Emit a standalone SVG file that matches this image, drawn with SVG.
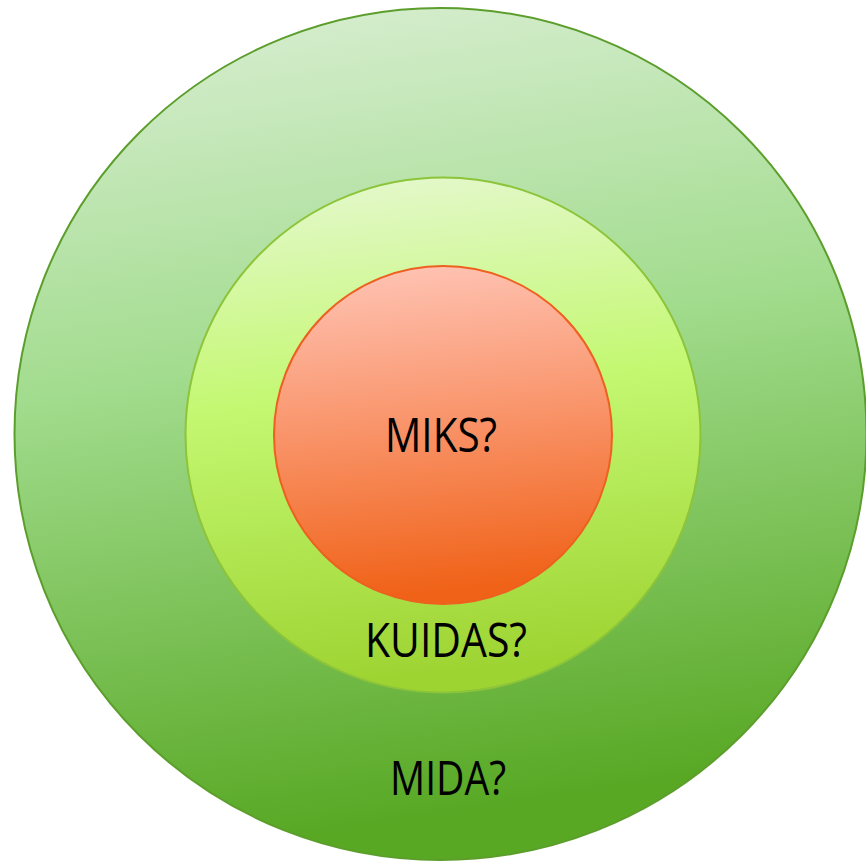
<svg xmlns="http://www.w3.org/2000/svg" width="866" height="863" viewBox="0 0 866 863">
<defs>
<linearGradient id="gOuter" x1="0" y1="0" x2="0.15" y2="1">
<stop offset="0" stop-color="#dcefd6"/>
<stop offset="0.45" stop-color="#a2dc8e"/>
<stop offset="1" stop-color="#58a824"/>
</linearGradient>
<linearGradient id="gMid" x1="0" y1="0" x2="0.1" y2="1">
<stop offset="0" stop-color="#e6f8d2"/>
<stop offset="0.45" stop-color="#c4f872"/>
<stop offset="1" stop-color="#9ed432"/>
</linearGradient>
<linearGradient id="gInner" x1="0" y1="0" x2="0.1" y2="1">
<stop offset="0" stop-color="#ffc6b8"/>
<stop offset="0.5" stop-color="#f9946a"/>
<stop offset="1" stop-color="#f06218"/>
</linearGradient>
<style>
.lbl{font-family:"Open Sans","DejaVu Sans",sans-serif;font-size:48px;fill:#000;text-anchor:middle}
</style>
</defs>
<g id="outer">
<circle cx="440.5" cy="434" r="426" fill="url(#gOuter)" stroke="#5c9e2c" stroke-width="2"/>
<text class="lbl" x="448" y="795" textLength="116" lengthAdjust="spacingAndGlyphs">MIDA?</text>
</g>
<g id="middle">
<circle cx="443" cy="435" r="257.5" fill="url(#gMid)" stroke="#8cc43a" stroke-width="2"/>
<text class="lbl" x="446" y="657" textLength="162" lengthAdjust="spacingAndGlyphs">KUIDAS?</text>
</g>
<g id="inner">
<circle cx="443" cy="435" r="169" fill="url(#gInner)" stroke="#ee6020" stroke-width="2"/>
<text class="lbl" x="441" y="452" textLength="112" lengthAdjust="spacingAndGlyphs">MIKS?</text>
</g>
<g id="connectors"/>
</svg>
